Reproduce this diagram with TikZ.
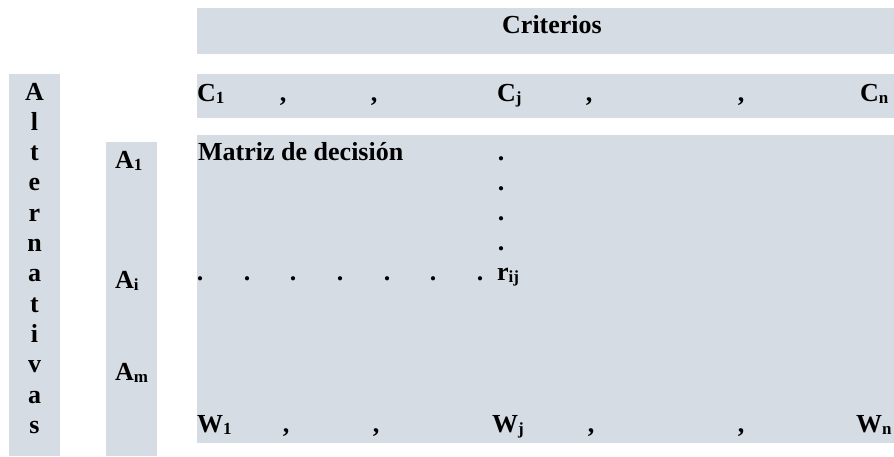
\documentclass[tikz,border=0pt]{standalone}
\usepackage{fontspec}
\setmainfont{Liberation Serif}
\definecolor{panelgray}{HTML}{D6DCE4}
\newcommand{\sbx}[1]{\raisebox{-2pt}{\fontsize{17}{17}\selectfont #1}}
\begin{document}
\begin{tikzpicture}[x=1pt, y=-1pt,
  panel/.style={fill=panelgray},
  lbl/.style={inner sep=0pt, anchor=base west, font=\bfseries\fontsize{26}{30}\selectfont},
  sep/.style={lbl, anchor=base}]
\useasboundingbox (0,0) rectangle (894,456);
% bands
\fill[panel] (197,8) rectangle (894,54);
\fill[panel] (197,74) rectangle (894,118);
\fill[panel] (197,135) rectangle (894,443);
\fill[panel] (106,142) rectangle (157,456);
\fill[panel] (9,74) rectangle (60,456);
% header
\node[sep] (crit) at (552,33) {Criterios};
% criteria row
\node[lbl] (c1) at (197,101) {C\sbx{1}};
\node[lbl] (cj) at (497,101) {C\sbx{j}};
\node[lbl] (cn) at (860,101) {C\sbx{n}};
\foreach \x [count=\k] in {283,374,589,741}
  \node[sep] (ccomma\k) at (\x,101) {,};
% weights row
\node[lbl] (w1) at (197,432) {W\sbx{1}};
\node[lbl] (wj) at (492,432) {W\sbx{j}};
\node[lbl] (wn) at (856,432) {W\sbx{n}};
\foreach \x [count=\k] in {286,376,591,741}
  \node[sep] (wcomma\k) at (\x,432) {,};
% alternatives
\foreach \ch [count=\k] in {A,l,t,e,r,n,a,t,i,v,a,s}
  \node[sep] (alt\k) at (34.5,{100+30.3*(\k-1)}) {\ch};
\node[lbl] (a1) at (115,168) {A\sbx{1}};
\node[lbl] (ai) at (115,288) {A\sbx{i}};
\node[lbl] (am) at (115,380) {A\sbx{m}};
% matrix
\node[lbl] (title) at (198,160) {Matriz de decisión};
\foreach \y [count=\k] in {160,190,220,250}
  \node[sep] (vdot\k) at (501,\y) {.};
\foreach \x [count=\k] in {200,247,293,340,387,433,480}
  \node[sep] (hdot\k) at (\x,280) {.};
\node[lbl] (rij) at (497,280) {r\sbx{ij}};
\end{tikzpicture}
\end{document}
